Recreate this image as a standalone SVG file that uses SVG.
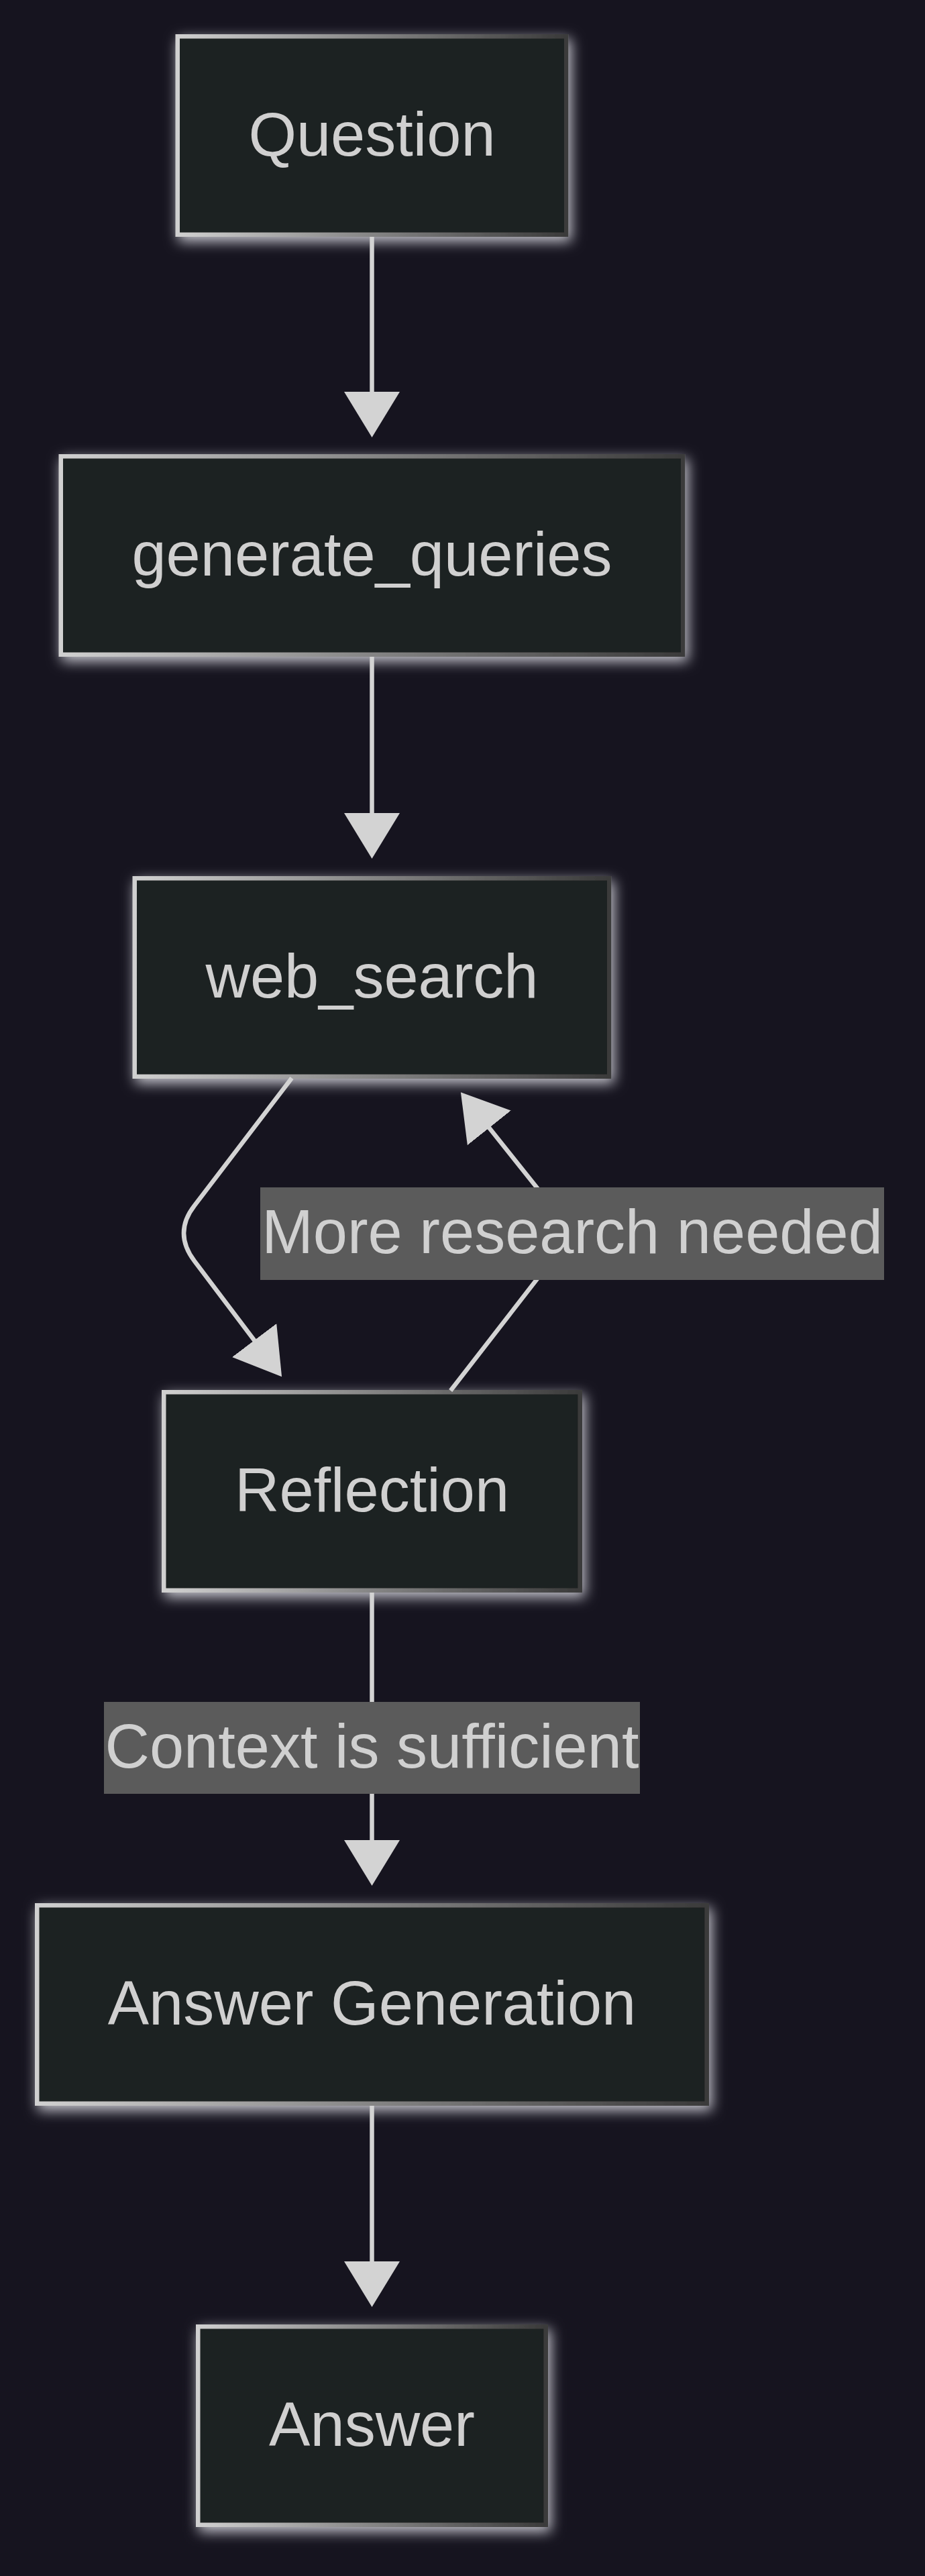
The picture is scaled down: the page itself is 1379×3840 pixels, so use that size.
<svg xmlns="http://www.w3.org/2000/svg" width="1379" height="3840" viewBox="0 0 1379 3840">
<defs>
<style>
.bg{fill:#16141f}
.box{fill:#1f2120;stroke:url(#edgeGrad);stroke-width:6.5}
.txt{font-family:"Liberation Sans",Arial,sans-serif;font-size:92px;fill:#d0d0d0;text-anchor:middle}
.edge{fill:none;stroke:#d3d3d3;stroke-width:6.5;marker-end:url(#arrow)}
.lbl{fill:#5b5b5b}
</style>
<linearGradient id="edgeGrad" x1="0" y1="0" x2="1" y2="0">
<stop offset="0" stop-color="#d0d0d0"/>
<stop offset="1" stop-color="#3a3a3a"/>
</linearGradient>
<filter id="glow" x="-20%" y="-20%" width="140%" height="150%">
<feGaussianBlur in="SourceAlpha" stdDeviation="10" result="blur"/>
<feOffset in="blur" dx="4" dy="7" result="off"/>
<feFlood flood-color="#dcdce4" flood-opacity="0.9"/>
<feComposite in2="off" operator="in"/>
<feMerge><feMergeNode/><feMergeNode in="SourceGraphic"/></feMerge>
</filter>
<marker id="arrow" viewBox="0 0 68 83" refX="1" refY="41.5" markerWidth="68" markerHeight="83" markerUnits="userSpaceOnUse" orient="auto">
<path d="M0,0 L68,41.5 L0,83 Z" fill="#d3d3d3"/>
</marker>
</defs>
<rect class="bg" x="0" y="0" width="1379" height="3840"/>
<g id="nodes">
<g id="node-question" filter="url(#glow)">
<rect class="box" x="264.75" y="54.25" width="579.5" height="295.5"/>
<text class="txt" x="554.5" y="232">Question</text>
</g>
<g id="node-generate_queries" filter="url(#glow)">
<rect class="box" x="90.75" y="680.25" width="927.5" height="295.5"/>
<text class="txt" x="554.5" y="858">generate_queries</text>
</g>
<g id="node-web_search" filter="url(#glow)">
<rect class="box" x="200.75" y="1309.25" width="707.5" height="295.5"/>
<text class="txt" x="554.5" y="1487">web_search</text>
</g>
<g id="node-reflection" filter="url(#glow)">
<rect class="box" x="244.25" y="2075.25" width="620.5" height="295.5"/>
<text class="txt" x="554.5" y="2253">Reflection</text>
</g>
<g id="node-answer_generation" filter="url(#glow)">
<rect class="box" x="55.25" y="2840.25" width="998.5" height="295.5"/>
<text class="txt" x="554.5" y="3018">Answer Generation</text>
</g>
<g id="node-answer" filter="url(#glow)">
<rect class="box" x="295.25" y="3468.25" width="518.5" height="295.5"/>
<text class="txt" x="554.5" y="3646">Answer</text>
</g>
</g>
<g id="connectors">
<path id="e1" class="edge" d="M554.5 353 L554.5 585"/>
<path id="e2" class="edge" d="M554.5 979 L554.5 1213"/>
<path id="e3" class="edge" d="M435 1607 L290 1797 Q258 1838 290 1880 L379.7 1998.8"/>
<path id="e4" class="edge" d="M671.7 2073 L840 1856 Q854 1838 840 1820 L728.7 1680.5"/>
<path id="e5" class="edge" d="M554.5 2374 L554.5 2744"/>
<path id="e6" class="edge" d="M554.5 3139 L554.5 3372"/>
</g>
<g id="edge-labels">
<g id="label-more-research">
<rect class="lbl" x="388" y="1770" width="930" height="138"/>
<text class="txt" x="853" y="1868">More research needed</text>
</g>
<g id="label-context-sufficient">
<rect class="lbl" x="155" y="2537" width="799" height="137"/>
<text class="txt" x="554.5" y="2635">Context is sufficient</text>
</g>
</g>
</svg>
